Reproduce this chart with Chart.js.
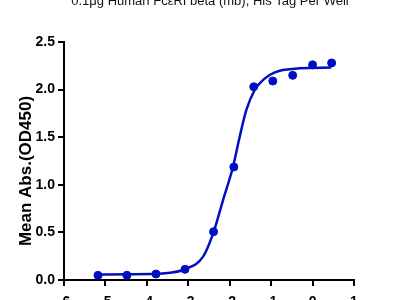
<!DOCTYPE html>
<html>
<head>
<meta charset="utf-8">
<script src="https://cdn.jsdelivr.net/npm/chart.js@4.4.0/dist/chart.umd.min.js"></script>
<style>
html,body{margin:0;padding:0;background:#fff;}
#wrap{width:400px;height:300px;position:relative;}
</style>
</head>
<body>
<div id="wrap"><canvas id="c" width="400" height="300"></canvas></div>
<script>
const titleText = "0.1μg Human FcεRI beta (mb), His Tag Per Well";
const yTitle = "Mean Abs.(OD450)";
const logConc = [-5.18, -4.48, -3.78, -3.08, -2.39, -1.90, -1.42, -0.96, -0.48, 0.00, 0.46];
const meanAbs = [0.049, 0.049, 0.063, 0.112, 0.507, 1.187, 2.03, 2.09, 2.15, 2.26, 2.28];
const curveX = [-5.18, -4.48, -3.78, -3.446, -3.084, -2.643, -2.40, -2.161, -1.92, -1.759, -1.598, -1.398, -1.277, -1.036, -0.795, -0.313, 0.451];
const curveY = [0.058, 0.060, 0.065, 0.075, 0.113, 0.245, 0.49, 0.84, 1.19, 1.505, 1.786, 1.996, 2.066, 2.153, 2.198, 2.224, 2.231];
const xTicks = [-6, -5, -4, -3, -2, -1, 0, 1];
const yTicks = [0.0, 0.5, 1.0, 1.5, 2.0, 2.5];

const blue = '#0010c0';
const pts = logConc.map((x, i) => ({x, y: meanAbs[i]}));
const curve = curveX.map((x, i) => ({x, y: curveY[i]}));
const FONT = '"Liberation Sans", Arial, sans-serif';

const textPlugin = {
  id: 'texts',
  afterDraw(chart) {
    const ctx = chart.ctx;
    const a = chart.chartArea;
    ctx.save();
    ctx.font = '13px ' + FONT;
    ctx.fillStyle = '#111';
    ctx.textAlign = 'center';
    ctx.textBaseline = 'alphabetic';
    ctx.fillText(titleText, 210, 5);
    ctx.translate(26, (a.top + a.bottom) / 2 + 10);
    ctx.rotate(-Math.PI / 2);
    ctx.font = 'bold 17px ' + FONT;
    ctx.fillStyle = '#000';
    ctx.textBaseline = 'middle';
    ctx.fillText(yTitle, 0, 0);
    ctx.restore();
  }
};

new Chart(document.getElementById('c'), {
  type: 'scatter',
  data: {
    datasets: [
      {
        type: 'line',
        data: curve,
        borderColor: blue,
        borderWidth: 2.5,
        pointRadius: 0,
        cubicInterpolationMode: 'monotone',
        fill: false,
        order: 2
      },
      {
        data: pts,
        backgroundColor: blue,
        borderColor: blue,
        pointRadius: 4,
        order: 1
      }
    ]
  },
  options: {
    responsive: false,
    animation: false,
    devicePixelRatio: 1,
    layout: {padding: {top: 42, right: 46, left: 0, bottom: 0}},
    plugins: {legend: {display: false}, tooltip: {enabled: false}, title: {display: false}},
    scales: {
      x: {
        type: 'linear', min: -6, max: 1,
        afterBuildTicks(s) { s.ticks = xTicks.map(v => ({value: v})); },
        afterFit(s) { s.height = 20; },
        border: {color: '#000', width: 2},
        grid: {drawOnChartArea: false, drawTicks: true, tickLength: 6, color: '#000', lineWidth: 2},
        ticks: {color: '#000', padding: 8, font: {family: FONT, size: 14, weight: 'bold'}, maxRotation: 0, autoSkip: false}
      },
      y: {
        type: 'linear', min: 0, max: 2.5,
        afterBuildTicks(s) { s.ticks = yTicks.map(v => ({value: v})); },
        afterFit(s) { s.width = 64; },
        border: {color: '#000', width: 2},
        grid: {drawOnChartArea: false, drawTicks: true, tickLength: 6, color: '#000', lineWidth: 2},
        title: {display: false},
        ticks: {color: '#000', padding: 3, callback: v => v.toFixed(1), font: {family: FONT, size: 14, weight: 'bold'}}
      }
    }
  },
  plugins: [textPlugin]
});
</script>
</body>
</html>
